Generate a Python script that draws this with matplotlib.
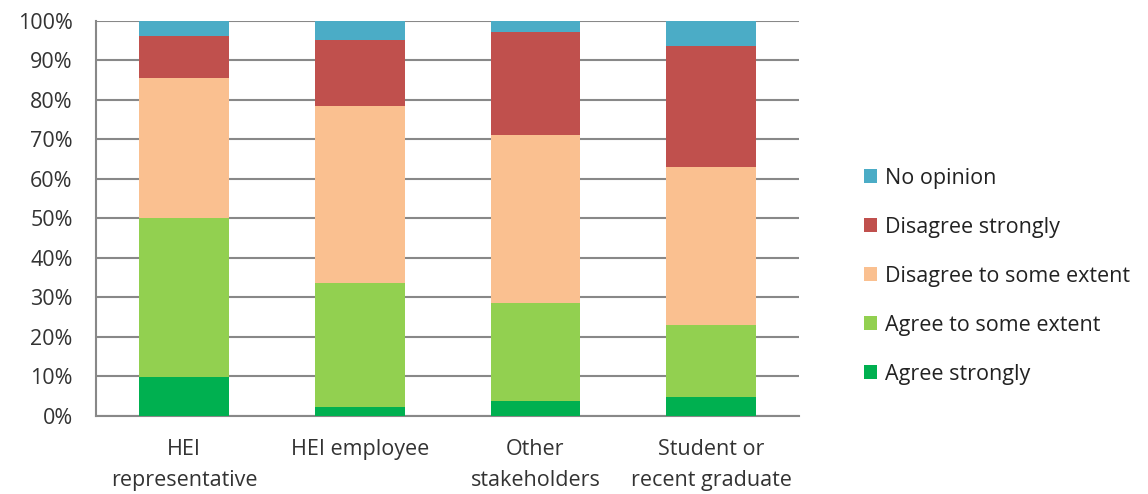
import numpy as np
import matplotlib
matplotlib.use('Agg')
import matplotlib.pyplot as plt

plt.rcParams['font.family'] = ['Open Sans', 'DejaVu Sans']

# Datos (porcentajes)
categorias = ['HEI\nrepresentative', 'HEI employee', 'Other\nstakeholders', 'Student or\nrecent graduate']
agree_strongly = [9.7, 2.3, 3.8, 4.8]
agree_some = [40.4, 31.2, 24.7, 18.2]
disagree_some = [35.5, 45.0, 42.5, 39.9]
disagree_strongly = [10.5, 16.7, 26.2, 30.8]
no_opinion = [3.9, 4.8, 2.8, 6.3]

series = [
    ('Agree strongly', agree_strongly, '#00B050'),
    ('Agree to some extent', agree_some, '#92D050'),
    ('Disagree to some extent', disagree_some, '#FAC090'),
    ('Disagree strongly', disagree_strongly, '#C0504D'),
    ('No opinion', no_opinion, '#4BACC6'),
]

fs = 15.5

fig = plt.figure(figsize=(11.48, 4.94), dpi=100)
ax = fig.add_axes([0.0839, 0.1585, 0.6121, 0.7995])

x = np.arange(len(categorias))
base = np.zeros(len(categorias))
handles = []
for nombre, valores, color in series:
    b = ax.bar(x, valores, width=0.51, bottom=base, color=color, label=nombre, zorder=3)
    handles.append(b)
    base = base + np.array(valores)

ax.set_xlim(-0.5, 3.5)
ax.set_ylim(0, 100)
ax.set_yticks(np.arange(0, 101, 10))
ax.set_yticklabels([f'{v}%' for v in range(0, 101, 10)], fontsize=fs, color='#333333')
ax.set_xticks(x)
ax.set_xticklabels(categorias, fontsize=fs, color='#333333', linespacing=1.6)
ax.tick_params(axis='both', length=0)
ax.tick_params(axis='x', pad=17)
ax.tick_params(axis='y', pad=17)
ax.yaxis.grid(True, color='#888888', linewidth=1.5, zorder=0)
for lado in ['top', 'right']:
    ax.spines[lado].set_visible(False)
ax.spines['left'].set_color('#888888')
ax.spines['bottom'].set_color('#888888')
ax.spines['left'].set_linewidth(1.5)
ax.spines['bottom'].set_linewidth(1.5)

fig.legend(handles[::-1], [s[0] for s in series][::-1],
           loc='upper left', bbox_to_anchor=(0.736, 0.70), frameon=False,
           fontsize=fs, handlelength=0.6, handleheight=0.6, handletextpad=0.35,
           labelspacing=1.3, labelcolor='#222222')

fig.savefig('out.png', dpi=100)
